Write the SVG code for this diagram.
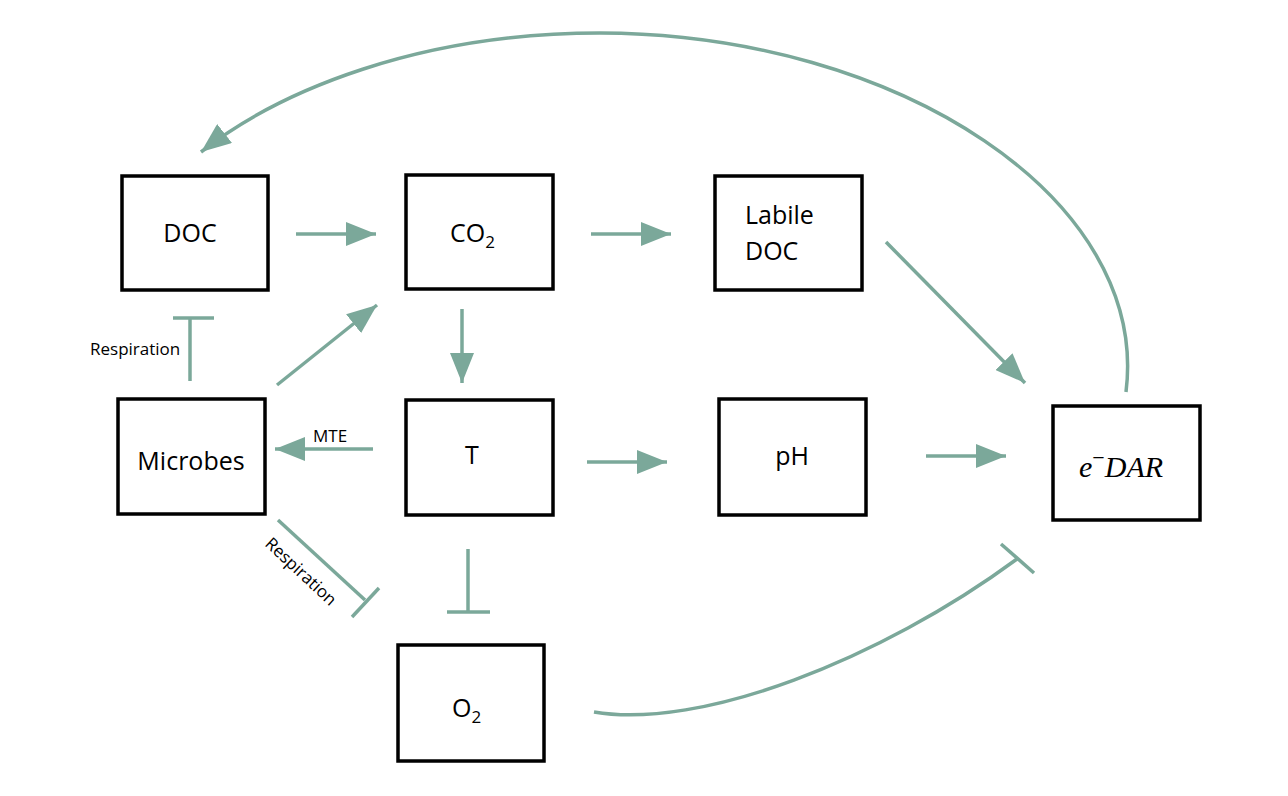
<svg xmlns="http://www.w3.org/2000/svg" width="1288" height="796" viewBox="0 0 1288 796">
<style>
.box{fill:#fff;stroke:#000;stroke-width:3.5}
.lbl{font-family:"Open Sans","Liberation Sans",sans-serif;font-size:25px;fill:#000}
.sm{font-family:"Open Sans","Liberation Sans",sans-serif;font-size:17px;fill:#000}
.c{fill:none;stroke:#7BA89A;stroke-width:3.5}
.a{marker-end:url(#ah)}
</style>
<defs>
<marker id="ah" markerUnits="userSpaceOnUse" markerWidth="32" markerHeight="24" refX="30" refY="12" orient="auto">
<path d="M0,0 L30,12 L0,24 Z" fill="#7BA89A"/>
</marker>
</defs>
<rect width="1288" height="796" fill="#fff"/>
<g id="connectors">
<line class="c a" x1="296" y1="234" x2="376" y2="234"/>
<line class="c a" x1="591" y1="234" x2="671" y2="234"/>
<line class="c a" x1="462" y1="309" x2="462" y2="383"/>
<line class="c a" x1="587" y1="462" x2="667" y2="462"/>
<line class="c a" x1="926" y1="456" x2="1006" y2="456"/>
<line class="c a" x1="886" y1="242" x2="1025" y2="383"/>
<line class="c a" x1="277" y1="385" x2="377" y2="305"/>
<line class="c a" x1="373" y1="449" x2="275" y2="449"/>
<text class="sm" x="313" y="442">MTE</text>
<line class="c" x1="190" y1="381" x2="190" y2="318"/>
<line class="c" x1="173" y1="318" x2="214" y2="318"/>
<text class="sm" x="90" y="355">Respiration</text>
<line class="c" x1="278" y1="520" x2="365" y2="600"/>
<line class="c" x1="352" y1="617" x2="379" y2="588"/>
<text class="sm" transform="translate(264,545) rotate(43)">Respiration</text>
<line class="c" x1="468" y1="549" x2="468" y2="612"/>
<line class="c" x1="447" y1="612" x2="490" y2="612"/>
<path class="c" d="M594,712 C700,730 880,660 1017,559"/>
<line class="c" x1="1001" y1="544" x2="1034" y2="573"/>
<path class="c a" d="M1126,392 C1150,200 900,34 600,33 C420,33 280,90 201,152"/>
</g>
<g id="node-doc"><rect class="box" x="122" y="176" width="146" height="114"/><text class="lbl" x="190" y="242" text-anchor="middle">DOC</text></g>
<g id="node-co2"><rect class="box" x="406" y="175" width="147" height="114"/><text class="lbl" x="450" y="242">CO<tspan font-size="17" dy="6">2</tspan></text></g>
<g id="node-labile"><rect class="box" x="715" y="176" width="147" height="114"/><text class="lbl" x="745" y="224">Labile</text><text class="lbl" x="745" y="260">DOC</text></g>
<g id="node-microbes"><rect class="box" x="118" y="399" width="147" height="115"/><text class="lbl" x="191" y="470" text-anchor="middle">Microbes</text></g>
<g id="node-t"><rect class="box" x="406" y="400" width="147" height="115"/><text class="lbl" x="472" y="464" text-anchor="middle">T</text></g>
<g id="node-ph"><rect class="box" x="719" y="399" width="147" height="116"/><text class="lbl" x="792" y="465" text-anchor="middle">pH</text></g>
<g id="node-edar"><rect class="box" x="1053" y="406" width="147" height="114"/><text x="1079" y="477" font-family="'Liberation Serif',serif" font-style="italic" font-size="30">e<tspan font-style="normal" font-size="22" dy="-12">−</tspan><tspan dy="12">DAR</tspan></text></g>
<g id="node-o2"><rect class="box" x="398" y="645" width="146" height="116"/><text class="lbl" x="452" y="717">O<tspan font-size="17" dy="6">2</tspan></text></g>
</svg>
